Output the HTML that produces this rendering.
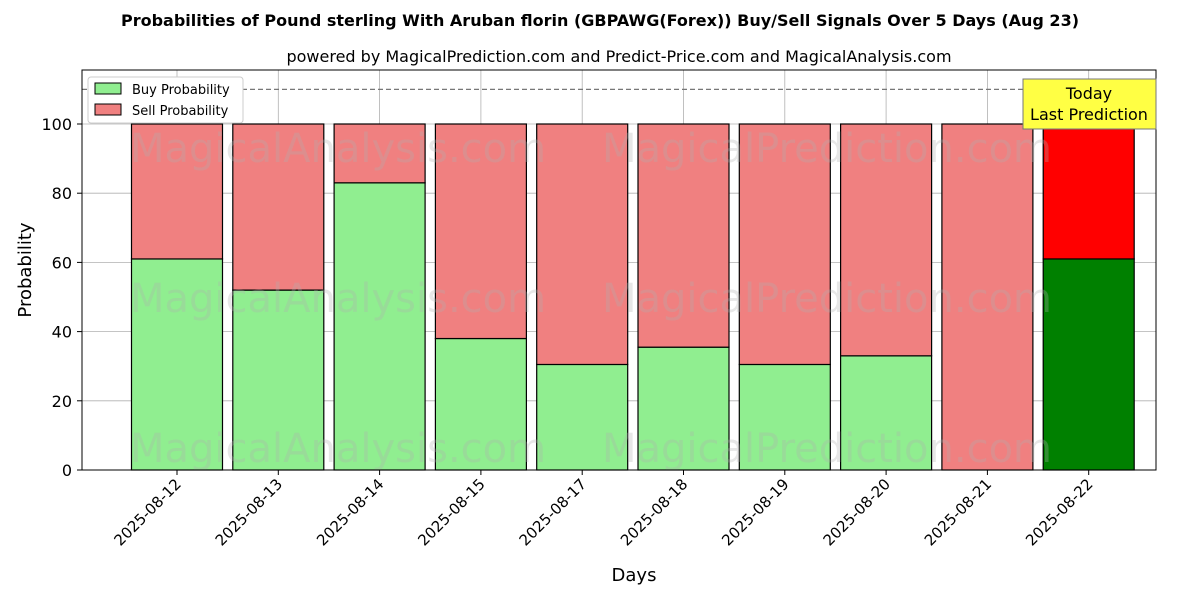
<!DOCTYPE html>
<html><head><meta charset="utf-8"><style>
body{margin:0;background:#fff;font-family:"Liberation Sans","DejaVu Sans",sans-serif}
svg text{font-family:"DejaVu Sans","Liberation Sans",sans-serif}
</style></head><body>
<svg id="c" width="1200" height="600" xmlns="http://www.w3.org/2000/svg">
<text x="600" y="26" text-anchor="middle" font-size="16" font-weight="bold">Probabilities of Pound sterling With Aruban florin (GBPAWG(Forex)) Buy/Sell Signals Over 5 Days (Aug 23)</text>
<text x="619" y="62" text-anchor="middle" font-size="16">powered by MagicalPrediction.com and Predict-Price.com and MagicalAnalysis.com</text>
<g id="grid"></g>
<g id="bars"></g>
<g id="wm" fill="#b0b0b0" fill-opacity="0.3" font-size="40">
<text x="130" y="162">MagicalAnalysis.com</text>
<text x="602" y="162">MagicalPrediction.com</text>
<text x="130" y="312">MagicalAnalysis.com</text>
<text x="602" y="312">MagicalPrediction.com</text>
<text x="130" y="462">MagicalAnalysis.com</text>
<text x="602" y="462">MagicalPrediction.com</text>
</g>
<line id="ref" x1="82" x2="1156" stroke="#777" stroke-dasharray="5,3" stroke-width="1.2"/>
<rect x="82" y="70" width="1074" height="400" fill="none" stroke="#000" stroke-width="1"/>
<g id="axes"></g>
<g>
<rect x="88" y="77" width="155" height="46" fill="#fff" stroke="#ccc" rx="3"/>
<rect x="95" y="83" width="26" height="11" fill="#90ee90" stroke="#000"/>
<text x="132" y="94" font-size="13">Buy Probability</text>
<rect x="95" y="104" width="26" height="11" fill="#f08080" stroke="#000"/>
<text x="132" y="115" font-size="13">Sell Probability</text>
</g>
<g>
<rect x="1023" y="79" width="133" height="50" fill="#ffff44" stroke="#777"/>
<text x="1089" y="99" text-anchor="middle" font-size="16">Today</text>
<text x="1089" y="120" text-anchor="middle" font-size="16">Last Prediction</text>
</g>
<text x="634" y="581" text-anchor="middle" font-size="18">Days</text>
<text transform="translate(31,270) rotate(-90)" text-anchor="middle" font-size="18">Probability</text>
</svg>
<script>
const categories=["2025-08-12","2025-08-13","2025-08-14","2025-08-15","2025-08-17","2025-08-18","2025-08-19","2025-08-20","2025-08-21","2025-08-22"];
const buyValues=[61,52,83,38,30.5,35.5,30.5,33,0,61];
const sellValues=[39,48,17,62,69.5,64.5,69.5,67,100,39];
const yTicks=[0,20,40,60,80,100];
const refValue=110;
const NS="http://www.w3.org/2000/svg";
const y=v=>470-v*3.46;
const x=i=>177+i*101.3;
const bw=91;
function mk(t,a,p){const e=document.createElementNS(NS,t);for(const k in a)e.setAttribute(k,a[k]);p.appendChild(e);return e;}
const grid=document.getElementById('grid'),bars=document.getElementById('bars'),axes=document.getElementById('axes');
yTicks.forEach(v=>{
 const l=mk('line',{x1:82,x2:1156,y1:y(v),y2:y(v),stroke:'#b0b0b0','stroke-width':0.8},grid);
 
 
 mk('line',{x1:77,x2:82,y1:y(v),y2:y(v),stroke:'#000'},axes);
 const t=mk('text',{x:72,y:y(v)+6,'text-anchor':'end','font-size':16},axes);t.textContent=v;
 
 
});
categories.forEach((c,i)=>{
 const g=mk('line',{x1:x(i),x2:x(i),y1:70,y2:470,stroke:'#b0b0b0','stroke-width':0.8},grid);
 
 
 const last=i===categories.length-1;
 const b=mk('rect',{x:x(i)-bw/2,y:y(buyValues[i]),width:bw,height:y(0)-y(buyValues[i]),fill:last?'#008000':'#90ee90',stroke:'#000','stroke-width':1.2},bars);
 
 
 const s=mk('rect',{x:x(i)-bw/2,y:y(buyValues[i]+sellValues[i]),width:bw,height:y(buyValues[i])-y(buyValues[i]+sellValues[i]),fill:last?'#ff0000':'#f08080',stroke:'#000','stroke-width':1.2},bars);
 
 
 mk('line',{x1:x(i),x2:x(i),y1:470,y2:475,stroke:'#000'},axes);
 const t=mk('text',{transform:`translate(${x(i)+5},${485}) rotate(-45)`,'text-anchor':'end','font-size':15},axes);t.textContent=c;
 
 
});
const r=document.getElementById('ref');r.setAttribute('y1',y(refValue));r.setAttribute('y2',y(refValue));
</script>
</body></html>
